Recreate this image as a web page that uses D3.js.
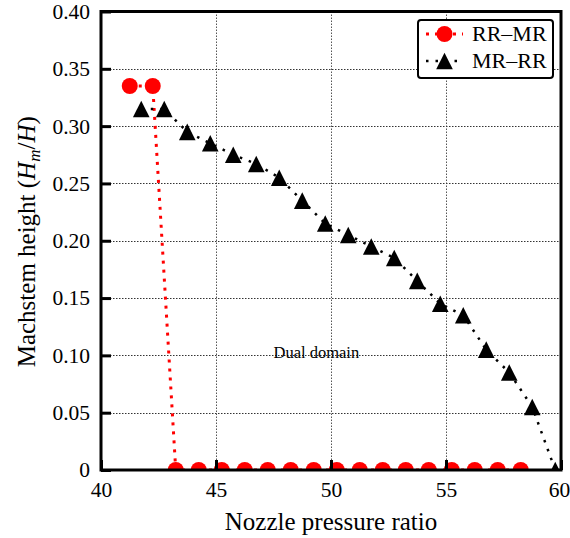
<!DOCTYPE html>
<html>
<head>
<meta charset="utf-8">
<script src="https://cdn.jsdelivr.net/npm/d3@7"></script>
<style>
  html, body { margin: 0; padding: 0; background: #fff; }
  svg { display: block; }
  text { font-family: "Liberation Serif", "Times New Roman", serif; fill: #000; }
</style>
</head>
<body>
<svg id="chart" width="570" height="538"></svg>
<script>
// ---- data ----
const rrmrX = [41.25, 42.25, 43.25, 44.25, 45.25, 46.25, 47.25, 48.25, 49.25, 50.25, 51.25, 52.25, 53.25, 54.25, 55.25, 56.25, 57.25, 58.25];
const rrmrY = [0.335, 0.335, 0, 0, 0, 0, 0, 0, 0, 0, 0, 0, 0, 0, 0, 0, 0, 0];
const mrrrX = [41.75, 42.75, 43.75, 44.75, 45.75, 46.75, 47.75, 48.75, 49.75, 50.75, 51.75, 52.75, 53.75, 54.75, 55.75, 56.75, 57.75, 58.75, 59.75];
const mrrrY = [0.315, 0.315, 0.295, 0.285, 0.275, 0.267, 0.255, 0.235, 0.215, 0.205, 0.195, 0.185, 0.165, 0.145, 0.135, 0.105, 0.085, 0.055, 0];
const xTicks = [40, 45, 50, 55, 60];
const yTicks = [0, 0.05, 0.10, 0.15, 0.20, 0.25, 0.30, 0.35, 0.40];
const seriesNames = ["RR\u2013MR", "MR\u2013RR"];
const annotation = { text: "Dual domain", x: 47.5, y: 0.098 };

// ---- layout ----
const svg = d3.select("#chart");
const L = 101, R = 561, T = 11.5, B = 470;
const SERIF = "'Liberation Serif', 'Times New Roman', serif";
const x = d3.scaleLinear().domain([40, 60]).range([L, R]);
const y = d3.scaleLinear().domain([0, 0.4]).range([B, T]);

svg.append("defs").append("clipPath").attr("id", "plotclip")
  .append("rect").attr("x", L).attr("y", T).attr("width", R - L).attr("height", B - T);

// gridlines
const grid = svg.append("g");
grid.selectAll("line.gx").data(xTicks.filter(d => d > 40 && d < 60)).enter().append("line")
  .attr("x1", d => Math.round(x(d)) + 0.5).attr("x2", d => Math.round(x(d)) + 0.5)
  .attr("y1", T).attr("y2", B)
  .attr("stroke", "#555").attr("stroke-width", 1).attr("stroke-dasharray", "1.5,1.5");
grid.selectAll("line.gy").data(yTicks.filter(d => d > 0 && d < 0.4)).enter().append("line")
  .attr("y1", d => Math.round(y(d)) + 0.5).attr("y2", d => Math.round(y(d)) + 0.5)
  .attr("x1", L).attr("x2", R)
  .attr("stroke", "#333").attr("stroke-width", 1).attr("stroke-dasharray", "1.5,1.5");

// annotation
svg.append("text").attr("x", x(annotation.x)).attr("y", y(annotation.y))
  .style("font-family", SERIF).attr("font-size", 16.5).text(annotation.text);

// series
const plot = svg.append("g").attr("clip-path", "url(#plotclip)");
const rrmr = rrmrX.map((v, i) => [v, rrmrY[i]]);
const mrrr = mrrrX.map((v, i) => [v, mrrrY[i]]);
const line = d3.line().x(d => x(d[0])).y(d => y(d[1]));

const redStyle = { color: "#ff0000", width: 3, dash: "3,6" };
const blackStyle = { color: "#000", width: 2.5, dash: "2.5,7" };

plot.append("path").datum(rrmr).attr("d", line)
  .attr("fill", "none").attr("stroke", redStyle.color).attr("stroke-width", redStyle.width)
  .attr("stroke-dasharray", redStyle.dash);
plot.selectAll("circle.rr").data(rrmr).enter().append("circle")
  .attr("cx", d => x(d[0])).attr("cy", d => y(d[1])).attr("r", 8).attr("fill", "#ff0000");

plot.append("path").datum(mrrr).attr("d", line)
  .attr("fill", "none").attr("stroke", blackStyle.color).attr("stroke-width", blackStyle.width)
  .attr("stroke-dasharray", blackStyle.dash);
const tri = s => `M0,${-s}L${s},${s}L${-s},${s}Z`;
plot.selectAll("path.mr").data(mrrr).enter().append("path")
  .attr("d", tri(8.3)).attr("transform", d => `translate(${x(d[0])},${y(d[1])})`).attr("fill", "#000");

// axes
const yAxis = d3.axisLeft(y).tickValues(yTicks).tickSize(-10).tickPadding(11)
  .tickFormat(d => d === 0 ? "0" : d3.format(".2f")(d));
const gy = svg.append("g").attr("transform", `translate(${L},0)`).call(yAxis);
const xAxis = d3.axisBottom(x).tickValues(xTicks).tickSize(-10).tickPadding(12).tickFormat(d3.format("d"));
const gx = svg.append("g").attr("transform", `translate(0,${B})`).call(xAxis);
[gx, gy].forEach(g => {
  g.attr("font-family", null).attr("font-size", null);
  g.select(".domain").remove();
  g.selectAll(".tick line").attr("stroke", "#000").attr("stroke-width", 3);
  g.selectAll(".tick text").style("font-family", SERIF).style("font-size", "21.5px").attr("fill", "#000");
});
// keep the last x label inside the picture
gx.selectAll(".tick text").filter(d => d === 60).attr("dx", -2);

// frame
svg.append("rect").attr("x", L).attr("y", T).attr("width", R - L).attr("height", B - T)
  .attr("fill", "none").attr("stroke", "#000").attr("stroke-width", 3);

// axis titles
svg.append("text").attr("x", (L + R) / 2).attr("y", 530).attr("text-anchor", "middle")
  .style("font-family", SERIF).attr("font-size", 25).text("Nozzle pressure ratio");
const yt = svg.append("text").attr("transform", `translate(35,${(T + B) / 2 + 1}) rotate(-90)`)
  .attr("text-anchor", "middle").style("font-family", SERIF).attr("font-size", 25);
yt.append("tspan").text("Machstem height (");
yt.append("tspan").attr("font-style", "italic").text("H");
yt.append("tspan").attr("font-style", "italic").attr("font-size", 17).attr("dy", 5).text("m");
yt.append("tspan").attr("dy", -5).text("/");
yt.append("tspan").attr("font-style", "italic").text("H");
yt.append("tspan").text(")");

// legend
const lg = svg.append("g");
lg.append("rect").attr("x", 418).attr("y", 20).attr("width", 135).attr("height", 58)
  .attr("rx", 3).attr("fill", "#fff").attr("stroke", "#000").attr("stroke-width", 2);
const styles = [redStyle, blackStyle];
seriesNames.forEach((name, i) => {
  const cy = 34 + i * 27;
  const st = styles[i];
  lg.append("line").attr("x1", 426).attr("x2", 463).attr("y1", cy).attr("y2", cy)
    .attr("stroke", st.color).attr("stroke-width", st.width).attr("stroke-dasharray", st.dash);
  if (i === 0) {
    lg.append("circle").attr("cx", 444.5).attr("cy", cy).attr("r", 8).attr("fill", "#ff0000");
  } else {
    lg.append("path").attr("d", tri(8.3)).attr("transform", `translate(444.5,${cy})`).attr("fill", "#000");
  }
  lg.append("text").attr("x", 472).attr("y", cy + 7).style("font-family", SERIF).attr("font-size", 22).text(name);
});
</script>
</body>
</html>
